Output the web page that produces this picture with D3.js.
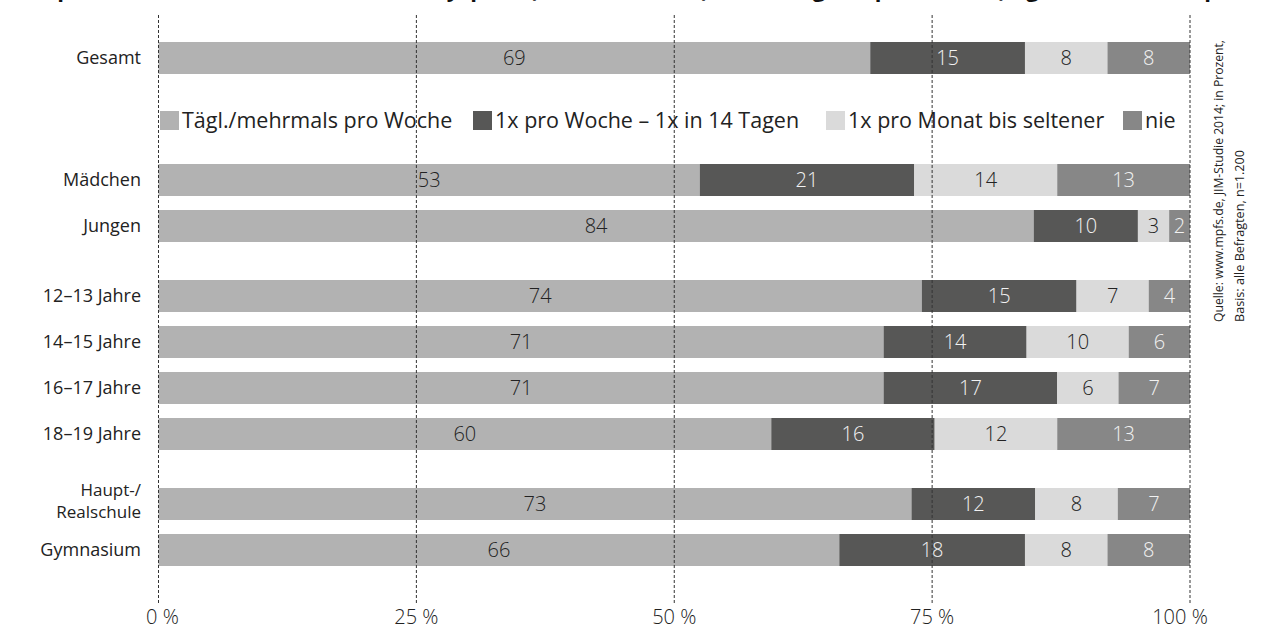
<!DOCTYPE html>
<html><head><meta charset="utf-8">
<script src="https://cdn.jsdelivr.net/npm/d3@7/dist/d3.min.js"></script>
<style>
html,body{margin:0;padding:0;background:#fff;overflow:hidden}
text{font-family:"Open Sans","Noto Sans",sans-serif}
</style></head>
<body>
<svg id="chart" width="1265" height="632"></svg>
<script>
const title = "Computer-, Konsolen-, Tablet- und Handyspiele (offline + online) – Nutzungsfrequenz 2014 (täglich/mehrmals pro Woche bis nie)";
const groups = [
  ["Gesamt"],
  ["Mädchen", "Jungen"],
  ["12–13 Jahre", "14–15 Jahre", "16–17 Jahre", "18–19 Jahre"],
  ["Haupt-/\nRealschule", "Gymnasium"]
];
const series = ["Tägl./mehrmals pro Woche", "1x pro Woche – 1x in 14 Tagen", "1x pro Monat bis seltener", "nie"];
const taeglich  = [69, 53, 84, 74, 71, 71, 60, 73, 66];
const woechentl = [15, 21, 10, 15, 14, 17, 16, 12, 18];
const monatlich = [8, 14, 3, 7, 10, 6, 12, 8, 8];
const nie       = [8, 13, 2, 4, 6, 7, 13, 7, 8];
const ticks = [0, 25, 50, 75, 100];
const tickLabels = ["0 %", "25 %", "50 %", "75 %", "100 %"];
const source = ["Quelle: www.mpfs.de, JIM-Studie 2014; in Prozent,", "Basis: alle Befragten, n=1.200"];

const colors = ["#b2b2b2", "#575756", "#dadada", "#878787"];
const textColors = ["#222", "#f2f2f2", "#222", "#f2f2f2"];

const svg = d3.select("#chart");
const x = d3.scaleLinear().domain([0, 100]).range([158.5, 1190]);

// row layout
const rowStep = 46, groupGap = 24, legendGap = 76;
const rows = [];
let yc = 58;
groups.forEach((g, gi) => {
  if (gi === 1) yc += legendGap;
  else if (gi > 1) yc += groupGap;
  g.forEach(name => { rows.push({name, y: yc}); yc += rowStep; });
});
rows.forEach((r, i) => {
  r.vals = [taeglich[i], woechentl[i], monatlich[i], nie[i]];
});
const barH = 32;

// title (cut off at top, as in the reference)
svg.append("text").attr("x", 8).attr("y", -3)
  .attr("font-size", 22).attr("font-weight", "bold").attr("fill", "#111")
  .text(title);

// bars (each row normalised to 100 %, rounded values shown)
rows.forEach(r => {
  const sum = d3.sum(r.vals);
  let cum = 0;
  const g = svg.append("g");
  r.vals.forEach((v, si) => {
    const x0 = x(cum / sum * 100), x1 = x((cum + v) / sum * 100);
    g.append("rect").attr("x", x0).attr("y", r.y - barH / 2)
      .attr("width", x1 - x0).attr("height", barH).attr("fill", colors[si]);
    g.append("text").attr("x", (x0 + x1) / 2).attr("y", r.y + 7)
      .attr("text-anchor", "middle").attr("font-size", 20).attr("font-weight", 300)
      .attr("fill", textColors[si]).text(v);
    cum += v;
  });
  const lines = r.name.split("\n");
  lines.forEach((l, li) => {
    svg.append("text").attr("text-anchor", "end")
      .attr("font-size", lines.length > 1 ? 17 : 18).attr("fill", "#222")
      .attr("x", 141)
      .attr("y", lines.length > 1 ? r.y + 3 + (li - 0.5) * 22 : r.y + 6)
      .text(l);
  });
});

// gridlines
svg.append("g").selectAll("line").data(ticks).join("line")
  .attr("x1", d => x(d)).attr("x2", d => x(d))
  .attr("y1", 15).attr("y2", 605)
  .attr("stroke", "#333").attr("stroke-width", 1)
  .attr("stroke-dasharray", "3,2");

// axis labels
svg.append("g").selectAll("text").data(ticks).join("text")
  .attr("x", (d, i) => x(d) + (i === 0 ? 4 : (i === 4 ? -10 : 0)))
  .attr("y", 624).attr("text-anchor", "middle")
  .attr("font-size", 20).attr("font-weight", 300).attr("fill", "#222")
  .text((d, i) => tickLabels[i]);

// legend
const legendX = [160, 473, 826, 1123];
const legend = svg.append("g").attr("transform", "translate(0,121)");
series.forEach((s, i) => {
  const item = legend.append("g").attr("transform", `translate(${legendX[i]},0)`);
  item.append("rect").attr("x", 0).attr("y", -10).attr("width", 19).attr("height", 19)
    .attr("fill", colors[i]);
  item.append("text").attr("x", 22).attr("y", 7)
    .attr("font-size", 21.5).attr("fill", "#222")
    .text(s);
});

// source
const sourceLen = [282, 172];
svg.append("g").selectAll("text").data(source).join("text")
  .attr("transform", (d, i) => `translate(${1223 + i * 21},322) rotate(-90)`)
  .attr("font-size", 13.5).attr("fill", "#222")
  .attr("textLength", (d, i) => sourceLen[i]).attr("lengthAdjust", "spacingAndGlyphs")
  .text(d => d);
</script>
</body></html>
